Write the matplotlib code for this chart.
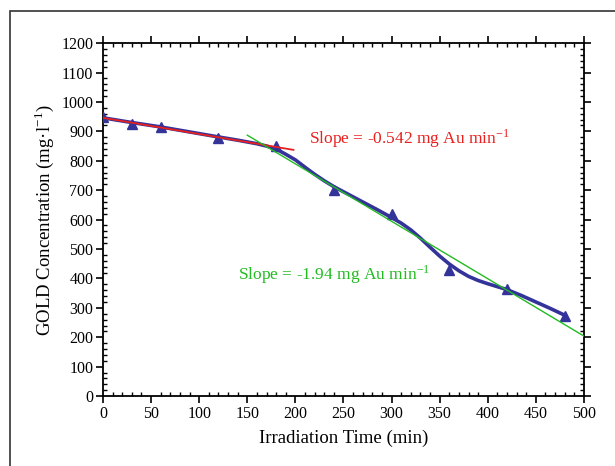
import matplotlib.pyplot as plt
from matplotlib.ticker import MultipleLocator
from matplotlib.patches import Rectangle

# --- Data ---
time_min = [0, 30, 60, 120, 180, 240, 300, 360, 420, 480]
gold_conc = [950, 925, 915, 878, 850, 700, 620, 430, 365, 272]

# smooth trend curve
curve_x = [0, 30, 60, 90, 120, 140, 160, 170, 180, 190, 200, 210, 220, 230,
           240, 255, 270, 285, 300, 310, 320, 330, 340, 350, 360, 370, 380,
           390, 400, 410, 420, 435, 450, 465, 480]
curve_y = [946, 930, 915, 898, 881, 870, 858, 850, 840, 822, 803, 778, 754, 732,
           712, 686, 660, 634, 607, 588, 565, 537, 506, 476, 449, 426, 407,
           393, 382, 372, 362, 342, 320, 298, 275]

# linear fits (end points)
red_x = [0, 198]
red_y = [946, 837]
green_x = [150, 500]
green_y = [887, 204]

plt.rcParams['font.family'] = ['Liberation Serif', 'DejaVu Serif']
plt.rcParams['mathtext.fontset'] = 'stix'

fig = plt.figure(figsize=(6.15, 4.66), dpi=100)
ax = fig.add_axes([0.1675, 0.150, 0.782, 0.7575])

# outer frame (only left and top visible)
fig.patches.append(Rectangle((10 / 615, -0.1), 1.2, 1 - 11 / 466 + 0.1,
                             transform=fig.transFigure, fill=False,
                             edgecolor='#333333', linewidth=1.2))

blue = '#33339a'
ax.plot(curve_x, curve_y, color=blue, linewidth=2.6, zorder=2,
        solid_joinstyle='round')
ax.plot(time_min, gold_conc, linestyle='none', marker='^', markersize=7,
        color=blue, zorder=3)
ax.plot(red_x, red_y, color='#e8201f', linewidth=1.3, zorder=4)
ax.plot(green_x, green_y, color='#22bb22', linewidth=1.0, zorder=4)

ax.text(214, 875, 'Slope = -0.542 mg Au min$^{\\mathregular{-1}}$',
        color='#e8201f', fontsize=12.5, va='center')
ax.text(140, 414, 'Slope = -1.94 mg Au min$^{\\mathregular{-1}}$',
        color='#22bb22', fontsize=12.5, va='center')

ax.set_xlim(0, 500)
ax.set_ylim(0, 1200)
ax.xaxis.set_major_locator(MultipleLocator(50))
ax.xaxis.set_minor_locator(MultipleLocator(10))
ax.yaxis.set_major_locator(MultipleLocator(100))
ax.yaxis.set_minor_locator(MultipleLocator(20))

ax.tick_params(which='major', direction='out', length=5, width=1.2,
               labelsize=11.5, pad=2)
ax.tick_params(which='minor', direction='in', length=3, width=1.0)
ax.tick_params(which='both', top=True, right=True)
for s in ax.spines.values():
    s.set_linewidth(1.3)

ax.set_xlabel('Irradiation Time (min)', fontsize=13.5, labelpad=6)
ax.set_ylabel('GOLD Concentration (mg\u00b7l$^{\\mathregular{-1}}$)',
              fontsize=13.5, labelpad=4)

fig.savefig('out.png', dpi=100)
